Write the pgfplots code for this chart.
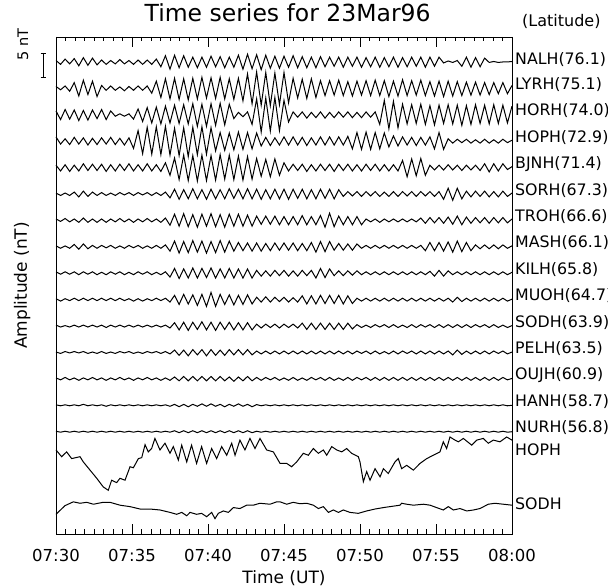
\documentclass[border=0pt]{standalone}
\usepackage{pgfplots}
\pgfplotsset{compat=1.18}
\usepackage{pgfplotstable}
\usepackage{fontspec}
\setmainfont{DejaVu Sans}

% amplitudes (nT) of the 15 upper traces, about their own baselines
\pgfplotstableread{
t a0 a1 a2 a3 a4 a5 a6 a7 a8 a9 a10 a11 a12 a13 a14
0 0.3 0.4 0.8 0.9 0.5 0.2 0.3 0.2 0.3 0.2 0.2 0.1 0.2 0.1 0.1
0.3 -0.5 -0.3 -1.0 -0.6 -0.7 -0.3 -0.2 -0.3 -0.2 -0.3 -0.2 -0.2 -0.2 -0.1 -0.1
0.6 0.6 0.5 1.1 0.5 0.6 0.2 0.4 0.2 0.3 0.2 0.1 0.2 0.3 0.1 0.1
0.9 -0.4 -0.6 -0.9 -0.7 -0.8 -0.3 -0.3 -0.3 -0.2 -0.2 -0.2 -0.1 -0.2 -0.1 -0.1
1.2 0.7 1.2 1.0 0.8 0.5 0.4 0.3 0.5 0.3 0.3 0.2 0.2 0.2 0.1 0.1
1.5 -0.8 -1.6 -1.2 -0.6 -0.7 -0.6 -0.4 -0.5 -0.3 -0.2 -0.2 -0.1 -0.3 -0.1 -0.1
1.8 0.9 1.7 0.9 0.7 0.8 0.6 0.5 0.6 0.3 0.3 0.2 0.2 0.2 0.2 0.1
2.1 -0.7 -1.3 -1.1 -0.8 -0.6 -0.5 -0.4 -0.4 -0.2 -0.2 -0.2 -0.2 -0.2 -0.1 -0.1
2.4 0.8 1.5 1.0 0.6 0.7 0.4 0.3 0.3 0.3 0.3 0.2 0.1 0.3 0.1 0.1
2.7 -0.6 -1.7 -0.8 -0.7 -0.6 -0.3 -0.4 -0.3 -0.3 -0.2 -0.2 -0.2 -0.2 -0.1 -0.1
3.0 0.4 0.6 1.1 0.7 0.7 0.3 0.3 0.3 0.2 0.3 0.2 0.2 0.2 0.1 0.1
3.3 -0.5 -0.4 -1.0 -0.6 -0.8 -0.3 -0.4 -0.2 -0.3 -0.2 -0.3 -0.2 -0.3 -0.2 -0.1
3.6 0.3 0.5 0.8 0.8 0.6 0.2 0.3 0.3 0.3 0.3 0.2 0.1 0.2 0.1 0.1
3.9 -0.4 -0.4 -0.3 -0.7 -0.7 -0.3 -0.3 -0.3 -0.2 -0.2 -0.2 -0.2 -0.2 -0.1 -0.1
4.2 0.5 0.3 0.2 0.6 0.7 0.3 0.4 0.2 0.3 0.3 0.2 0.2 0.3 0.1 0.1
4.5 -0.4 -0.5 -0.3 -0.8 -0.6 -0.2 -0.3 -0.3 -0.3 -0.2 -0.2 -0.1 -0.2 -0.1 -0.1
4.8 0.3 0.4 0.2 0.7 0.8 0.3 0.3 0.3 0.2 0.2 0.2 0.2 0.2 0.1 0.1
5.1 -0.5 -0.4 -0.9 -1.5 -0.7 -0.3 -0.4 -0.2 -0.3 -0.3 -0.2 -0.2 -0.3 -0.1 -0.1
5.4 0.4 0.5 1.2 2.2 0.6 0.3 0.3 0.3 0.3 0.2 0.2 0.1 0.2 0.1 0.1
5.7 -0.5 -0.4 -1.4 -2.6 -0.7 -0.2 -0.3 -0.3 -0.2 -0.3 -0.2 -0.2 -0.2 -0.1 -0.1
6.0 0.4 0.5 1.5 2.9 0.8 0.3 0.4 0.2 0.3 0.2 0.2 0.2 0.3 0.1 0.1
6.3 -0.5 -1.0 -1.7 -2.7 -0.7 -0.3 -0.3 -0.3 -0.3 -0.2 -0.2 -0.1 -0.2 -0.1 -0.1
6.6 0.6 1.5 1.6 3.0 0.6 0.3 0.3 0.3 0.2 0.3 0.2 0.2 0.2 0.1 0.1
6.9 -1.0 -1.9 -1.9 -2.8 -0.8 -0.3 -0.4 -0.3 -0.3 -0.2 -0.2 -0.2 -0.3 -0.1 -0.1
7.2 1.3 2.0 1.8 3.1 1.0 0.4 0.5 0.4 0.3 0.3 0.2 0.2 0.2 0.1 0.1
7.5 -1.5 -2.2 -1.7 -2.9 -1.6 -0.8 -1.0 -0.9 -0.8 -0.5 -0.4 -0.3 -0.3 -0.2 -0.1
7.8 1.4 2.1 2.0 2.7 2.0 1.0 1.3 1.2 1.0 0.9 0.7 0.5 0.4 0.2 0.2
8.1 -1.2 -2.3 -1.8 -3.0 -2.5 -1.1 -1.2 -1.3 -1.1 -1.0 -0.8 -0.6 -0.4 -0.3 -0.2
8.4 1.3 2.0 2.1 2.8 2.6 0.9 1.4 1.1 0.9 1.1 0.8 0.5 0.5 0.2 0.2
8.7 -1.1 -2.4 -1.9 -3.2 -2.7 -1.0 -1.3 -1.2 -1.0 -0.9 -0.9 -0.7 -0.4 -0.3 -0.2
9.0 1.0 2.1 2.3 2.9 2.5 1.1 1.2 1.3 1.1 1.0 0.8 0.6 0.5 0.2 0.2
9.3 -1.2 -2.2 -2.4 -2.8 -2.8 -1.0 -1.4 -1.1 -1.0 -1.2 -0.7 -0.5 -0.4 -0.2 -0.2
9.6 1.0 2.3 2.2 3.0 2.6 0.9 1.3 1.2 1.0 1.1 0.9 0.6 0.5 0.3 0.2
9.9 -1.1 -2.0 -2.4 -2.7 -2.7 -1.1 -1.2 -1.3 -0.9 -1.4 -0.8 -0.7 -0.4 -0.2 -0.2
10.2 1.2 2.2 2.3 2.8 2.5 1.0 1.4 1.1 1.1 1.5 0.8 0.6 0.5 0.3 0.2
10.5 -1.0 -2.1 -2.2 -2.0 -2.6 -1.0 -1.3 -1.2 -1.0 -1.4 -0.9 -0.6 -0.4 -0.2 -0.2
10.8 1.1 2.3 2.4 1.8 2.7 0.9 1.2 1.3 0.9 1.1 0.8 0.5 0.5 0.2 0.2
11.1 -1.2 -2.2 -2.1 -1.9 -2.4 -1.0 -1.4 -1.1 -1.0 -1.0 -0.7 -0.6 -0.4 -0.3 -0.2
11.4 1.0 2.0 2.2 1.7 2.6 1.1 1.3 1.2 1.0 1.0 0.8 0.6 0.4 0.2 0.2
11.7 -1.1 -2.3 -0.8 -1.8 -2.5 -0.9 -1.2 -0.9 -1.0 -1.1 -0.8 -0.5 -0.5 -0.2 -0.2
12.0 1.4 2.1 0.5 1.9 2.4 1.0 1.3 0.9 0.9 0.9 0.7 0.6 0.4 0.3 0.2
12.3 -1.5 -2.6 -0.4 -1.7 -2.6 -1.0 -1.2 -0.8 -1.0 -1.0 -0.8 -0.5 -0.4 -0.2 -0.2
12.6 1.6 3.0 0.6 1.8 2.3 1.1 1.1 0.8 0.9 1.0 0.7 0.6 0.5 0.2 0.2
12.9 -1.4 -3.2 -2.0 -1.6 -2.4 -1.0 -1.2 -0.9 -1.0 -0.9 -0.8 -0.5 -0.4 -0.3 -0.2
13.2 1.5 3.4 3.3 1.7 1.9 1.0 0.9 0.8 0.6 0.5 0.4 0.3 0.3 0.15 0.1
13.5 -1.6 -3.5 -3.6 -1.0 -1.8 -1.1 -0.8 -0.9 -0.6 -0.5 -0.4 -0.3 -0.3 -0.1 -0.1
13.8 1.4 3.3 3.5 0.8 1.7 0.9 0.9 0.7 0.5 0.6 0.4 0.3 0.3 0.1 0.1
14.1 -1.3 -3.6 -3.4 -0.9 -1.9 -1.0 -0.8 -0.8 -0.6 -0.5 -0.3 -0.3 -0.2 -0.1 -0.1
14.4 1.2 3.2 3.6 0.7 1.8 1.0 0.9 0.8 0.6 0.5 0.4 0.3 0.3 0.1 0.1
14.7 -1.3 -3.4 -3.3 -0.8 -1.6 -1.0 -0.9 -0.7 -0.5 -0.4 -0.4 -0.3 -0.3 -0.1 -0.1
15.0 1.2 3.3 3.0 0.9 1.0 1.0 0.8 0.8 0.6 0.5 0.4 0.3 0.2 0.1 0.1
15.3 -1.1 -3.0 -1.5 -0.8 -0.7 -1.1 -0.9 -0.7 -0.6 -0.5 -0.3 -0.3 -0.3 -0.1 -0.1
15.6 1.3 2.1 0.6 0.9 0.7 1.0 0.8 0.8 0.5 0.4 0.4 0.3 0.3 0.1 0.1
15.9 -1.2 -2.0 -0.5 -0.8 -0.6 -0.9 -0.9 -0.8 -0.6 -0.5 -0.4 -0.3 -0.3 -0.1 -0.1
16.2 1.1 1.9 0.6 0.8 0.7 1.0 1.0 0.7 0.6 0.8 0.6 0.3 0.2 0.1 0.1
16.5 -1.2 -2.1 -0.7 -0.9 -0.8 -1.0 -0.9 -0.8 -0.5 -0.9 -0.7 -0.3 -0.3 -0.1 -0.1
16.8 1.0 2.0 0.5 0.7 0.6 0.9 0.8 0.9 0.6 0.8 0.6 0.3 0.3 0.1 0.1
17.1 -1.2 -1.9 -0.6 -0.8 -0.7 -1.0 -0.9 -1.1 -1.0 -0.9 -0.7 -0.3 -0.2 -0.1 -0.1
17.4 1.1 1.6 0.6 0.9 0.7 1.0 1.0 1.1 1.0 0.9 0.6 0.3 0.3 0.1 0.1
17.7 -1.0 -1.5 -0.7 -0.8 -0.6 -0.9 -1.4 -1.0 -0.9 -0.8 -0.7 -0.3 -0.3 -0.1 -0.1
18.0 1.0 1.6 0.5 0.9 0.7 1.0 1.5 1.1 0.9 0.9 0.6 0.3 0.3 0.1 0.1
18.3 -0.9 -1.4 -0.6 -0.8 -0.8 -1.0 -1.3 -0.7 -0.5 -0.8 -0.7 -0.3 -0.3 -0.1 -0.1
18.6 1.0 1.7 0.6 0.9 0.7 0.9 0.9 0.7 0.5 0.9 0.6 0.3 0.2 0.1 0.1
18.9 -1.1 -1.5 -0.5 -0.8 -0.6 -0.5 -0.9 -0.7 -0.5 -0.9 -0.7 -0.3 -0.3 -0.1 -0.1
19.2 1.0 1.4 0.6 1.0 0.7 0.5 0.8 0.6 0.5 0.8 0.6 0.3 0.3 0.1 0.1
19.5 -0.9 -1.6 -0.6 -1.6 -0.7 -0.4 -0.9 -0.7 -0.4 -0.8 -0.6 -0.3 -0.3 -0.1 -0.1
19.8 1.0 1.5 0.5 1.8 0.6 0.5 0.8 0.6 0.5 0.3 0.3 0.3 0.3 0.1 0.1
20.1 -1.1 -1.4 -0.6 -1.7 -0.7 -0.5 -0.9 -0.3 -0.3 -0.3 -0.3 -0.2 -0.2 -0.1 -0.1
20.4 0.9 1.6 0.6 1.9 0.7 0.5 0.3 0.3 0.3 0.3 0.2 0.3 0.3 0.1 0.1
20.7 -1.0 -1.5 -0.5 -1.7 -0.6 -0.4 -0.3 -0.3 -0.3 -0.3 -0.3 -0.3 -0.3 -0.1 -0.1
21.0 1.0 1.7 0.6 1.8 0.7 0.5 0.3 0.3 0.3 0.3 0.3 0.3 0.3 0.1 0.1
21.3 -1.1 -1.5 -2.0 -1.6 -0.7 -0.5 -0.4 -0.3 -0.3 -0.3 -0.2 -0.3 -0.3 -0.1 -0.1
21.6 0.9 1.6 3.0 1.7 0.6 0.4 0.3 0.3 0.3 0.3 0.3 0.2 0.3 0.1 0.1
21.9 -1.0 -1.7 -2.9 -1.2 -0.7 -0.5 -0.3 -0.3 -0.3 -0.3 -0.3 -0.3 -0.3 -0.1 -0.1
22.2 1.0 1.5 2.8 1.1 0.6 0.5 0.3 0.3 0.3 0.3 0.3 0.3 0.3 0.1 0.1
22.5 -1.1 -1.6 -2.7 -1.0 -0.7 -0.5 -0.3 -0.3 -0.3 -0.3 -0.3 -0.3 -0.3 -0.1 -0.1
22.8 0.9 1.8 2.2 0.9 1.5 0.5 0.3 0.3 0.3 0.3 0.2 0.3 0.3 0.1 0.1
23.1 -1.0 -1.5 -1.9 -0.8 -1.9 -0.4 -0.3 -0.3 -0.3 -0.3 -0.3 -0.2 -0.3 -0.1 -0.1
23.4 1.0 1.6 2.1 0.8 1.8 0.5 0.3 0.3 0.3 0.3 0.3 0.3 0.3 0.1 0.1
23.7 -0.9 -1.4 -1.8 -0.9 -1.7 -0.5 -0.3 -0.3 -0.3 -0.3 -0.3 -0.3 -0.3 -0.1 -0.1
24.0 1.0 1.7 2.2 0.8 1.9 0.5 0.5 0.3 0.3 0.3 0.3 0.3 0.3 0.1 0.1
24.3 -1.1 -1.5 -2.0 -0.8 -1.6 -0.4 -0.6 -0.8 -0.3 -0.3 -0.2 -0.3 -0.3 -0.1 -0.1
24.6 1.0 1.4 1.9 0.9 0.5 0.5 0.6 0.9 0.4 0.3 0.3 0.3 0.3 0.1 0.1
24.9 -0.9 -1.6 -2.1 -1.6 -0.5 -0.5 -0.5 -0.8 -0.6 -0.3 -0.3 -0.3 -0.3 -0.1 -0.1
25.2 1.0 1.5 2.0 1.8 0.5 0.5 0.6 0.9 0.6 0.3 0.3 0.3 0.3 0.1 0.1
25.5 -0.2 -1.7 -1.8 -1.7 -0.5 -1.1 -0.6 -0.9 -0.6 -0.3 -0.3 -0.3 -0.3 -0.1 -0.1
25.8 0.2 1.5 2.1 0.5 0.6 1.2 0.7 1.0 0.5 0.3 0.3 0.3 0.3 0.1 0.1
26.1 -0.1 -1.6 -1.9 -0.4 -0.5 -1.3 -0.8 -1.1 -0.3 -0.5 -0.3 -0.5 -0.3 -0.1 -0.1
26.4 0.3 1.4 2.0 0.4 0.5 1.2 0.9 1.2 0.3 0.5 0.3 0.5 0.3 0.1 0.1
26.7 -0.9 -1.5 -2.2 -0.3 -0.6 -1.0 -0.9 -1.0 -0.3 -0.4 -0.3 -0.4 -0.3 -0.1 -0.1
27.0 1.0 1.3 1.9 0.4 0.5 0.6 0.7 0.9 0.3 0.3 0.3 0.3 0.3 0.1 0.1
27.3 -1.1 -1.4 -2.0 -0.4 -0.5 -0.6 -0.6 -0.8 -0.3 -0.3 -0.3 -0.3 -0.3 -0.1 -0.1
27.6 0.9 1.3 2.1 0.3 0.5 0.6 0.6 0.4 0.3 0.3 0.3 0.3 0.3 0.1 0.1
27.9 -1.0 -1.4 -1.8 -0.4 -0.6 -0.5 -0.5 -0.4 -0.3 -0.3 -0.2 -0.3 -0.3 -0.1 -0.1
28.2 0.8 1.2 2.0 0.4 0.8 0.6 0.6 0.4 0.3 0.3 0.3 0.3 0.3 0.1 0.1
28.5 -0.1 -1.3 -1.9 -0.4 -0.9 -0.6 -0.6 -0.4 -0.3 -0.3 -0.3 -0.3 -0.3 -0.1 -0.1
28.8 0.1 1.2 2.1 0.3 0.8 0.5 0.6 0.4 0.3 0.3 0.3 0.3 0.3 0.1 0.1
29.1 -0.1 -1.1 -1.8 -0.4 -0.7 -0.6 -0.5 -0.4 -0.3 -0.3 -0.3 -0.2 -0.3 -0.1 -0.1
29.4 0.0 1.2 2.0 0.4 0.8 0.6 0.6 0.4 0.3 0.3 0.2 0.3 0.3 0.1 0.1
29.7 0.0 -1.1 -1.7 -0.3 -0.4 -0.5 -0.5 -0.3 -0.3 -0.3 -0.3 -0.3 -0.2 -0.1 -0.1
30 0.1 0.6 1.8 0.2 0.2 0.2 0.3 0.2 0.2 0.1 0.1 0.1 0.1 0.0 0.0
}\traces

\tikzset{lab/.style={anchor=west,inner sep=0pt,xshift=3pt,font=\fontsize{15.8}{17}\selectfont}}

\begin{document}
\begin{tikzpicture}
\begin{axis}[
name=ax,
scale only axis,
width=456pt,
height=497pt,
xmin=0, xmax=30,
ymin=-98.3, ymax=5.2,
clip=false,
axis line style={line width=0.9pt},
ytick=\empty,
xtick={0,5,10,15,20,25,30},
xticklabels={07:30,07:35,07:40,07:45,07:50,07:55,08:00},
minor x tick num=7,
tick align=inside,
xtick pos=both,
xticklabel pos=lower,
major tick length=10pt,
minor tick length=4.5pt,
tick style={line width=0.9pt,black},
xticklabel style={font=\fontsize{16.5}{18}\selectfont,anchor=base,yshift=-28pt},
xlabel={Time (UT)},
ylabel={Amplitude (nT)},
xlabel style={font=\fontsize{17}{19}\selectfont,at={(axis description cs:0.5,-0.0986)},anchor=base},
ylabel style={font=\fontsize{17}{19}\selectfont,at={(axis description cs:-0.0636,0.5)},anchor=base},
title={Time series for 23Mar96},
title style={font=\fontsize{23.5}{25}\selectfont,at={(axis description cs:0.508,1.02)},anchor=base},
]
\pgfplotsinvokeforeach{0,...,14}{
  \addplot[black,line width=1pt] table[x=t,y expr=\thisrow{a#1}-5.5*#1] {\traces};
}
% HOPH, full field
\addplot[black,line width=1pt] coordinates {
(0,-80.8) (0.37,-82.2) (0.7,-81.2) (1.03,-82.6) (1.58,-82.2) (1.8,-83.3) (2.24,-85.0)
(2.68,-86.7) (3.11,-88.5) (3.44,-89.2) (3.66,-87.1) (3.99,-87.6) (4.21,-86.7) (4.54,-87.1)
(4.87,-84.3) (5.09,-84.5) (5.42,-82.6) (5.64,-82.4) (5.86,-79.7) (6.07,-81.2) (6.29,-80.5)
(6.51,-78.4) (6.84,-80.8) (7.17,-79.4) (7.5,-81.5) (7.72,-80.1) (8.05,-82.9) (8.27,-79.8)
(8.6,-83.3) (8.92,-79.8) (9.25,-83.6) (9.58,-80.1) (9.91,-83.6) (10.24,-80.5) (10.57,-82.6)
(10.9,-80.1) (11.23,-81.9) (11.56,-79.4) (11.78,-81.9) (12.1,-78.75) (12.43,-80.8)
(12.76,-78.4) (13.09,-80.5) (13.42,-78.4) (13.86,-80.8) (14.3,-81.2) (14.74,-83.6)
(15.18,-83.6) (15.5,-84.3) (15.83,-83.3) (16.27,-81.5) (16.6,-81.9) (16.93,-80.5)
(17.26,-81.5) (17.59,-80.8) (17.81,-81.9) (18.14,-80.1) (18.47,-80.8) (18.8,-81.2)
(19.12,-80.5) (19.45,-81.5) (19.89,-82.2) (20.0,-83.3) (20.22,-87.4) (20.44,-85.3)
(20.66,-87.1) (20.99,-84.7) (21.32,-86.4) (21.54,-84.7) (21.86,-85.7) (22.3,-83.3)
(22.52,-82.6) (22.74,-84.7) (23.07,-84.0) (23.51,-85.0) (23.95,-83.6) (24.39,-82.6)
(24.82,-81.9) (25.26,-81.2) (25.48,-79.1) (25.7,-80.5) (25.92,-78.1) (26.25,-78.75)
(26.47,-79.1) (26.8,-78.4) (27.35,-79.8) (27.68,-78.75) (28.11,-78.4) (28.44,-79.4)
(28.77,-78.75) (29.21,-79.1) (29.65,-78.1) (30,-78.75)};
% SODH, full field
\addplot[black,line width=1pt] coordinates {
(0,-94.2) (0.59,-92.4) (1.14,-91.6) (1.58,-91.9) (2.02,-91.7) (2.46,-92.1) (3.11,-91.7)
(3.55,-91.7) (4.21,-92.3) (4.87,-92.6) (5.53,-93.1) (6.18,-93.1) (6.84,-93.3) (7.5,-93.8)
(7.94,-94.2) (8.27,-93.8) (8.6,-94.5) (8.82,-93.8) (9.25,-94.2) (9.58,-94.0) (9.91,-94.7)
(10.24,-93.8) (10.46,-95.1) (10.68,-94.0) (11.01,-93.5) (11.34,-93.8) (11.67,-92.8)
(12.1,-93.0) (12.54,-92.3) (12.98,-92.3) (13.42,-91.9) (14.08,-92.1) (14.52,-91.6)
(14.74,-91.6) (15.18,-92.1) (15.61,-91.7) (16.05,-92.0) (16.49,-91.9) (16.93,-92.3)
(17.26,-93.0) (17.59,-92.6) (17.92,-93.8) (18.25,-93.3) (18.58,-93.8) (18.9,-93.3)
(19.34,-93.8) (19.89,-94.0) (20.44,-93.5) (20.99,-93.1) (21.54,-92.8) (21.97,-92.6)
(22.63,-92.3) (22.74,-91.9) (23.07,-92.1) (23.51,-92.3) (24.17,-92.1) (24.61,-92.3)
(25.04,-92.8) (25.48,-93.3) (25.81,-92.6) (26.14,-93.3) (26.58,-93.0) (27.02,-93.5)
(27.46,-93.3) (27.89,-93.0) (28.44,-92.1) (28.88,-91.9) (29.43,-92.1) (30,-92.3)};
% station labels
\node[lab] at (axis cs:30,0.6) {NALH(76.1)};
\node[lab] at (axis cs:30,-4.7) {LYRH(75.1)};
\node[lab] at (axis cs:30,-10.2) {HORH(74.0)};
\node[lab] at (axis cs:30,-15.7) {HOPH(72.9)};
\node[lab] at (axis cs:30,-21.2) {BJNH(71.4)};
\node[lab] at (axis cs:30,-26.7) {SORH(67.3)};
\node[lab] at (axis cs:30,-32.2) {TROH(66.6)};
\node[lab] at (axis cs:30,-37.7) {MASH(66.1)};
\node[lab] at (axis cs:30,-43.2) {KILH(65.8)};
\node[lab] at (axis cs:30,-48.7) {MUOH(64.7)};
\node[lab] at (axis cs:30,-54.2) {SODH(63.9)};
\node[lab] at (axis cs:30,-59.7) {PELH(63.5)};
\node[lab] at (axis cs:30,-65.2) {OUJH(60.9)};
\node[lab] at (axis cs:30,-70.7) {HANH(58.7)};
\node[lab] at (axis cs:30,-76.2) {NURH(56.8)};
\node[lab] at (axis cs:30,-80.8) {HOPH};
\node[lab] at (axis cs:30,-91.9) {SODH};
\node[anchor=base west,inner sep=0pt,font=\fontsize{16}{18}\selectfont]
  at ([xshift=10pt,yshift=10pt]axis description cs:1,1) {(Latitude)};
% 5 nT scale bar
\draw[line width=0.9pt] (axis cs:-0.855,1.875) -- (axis cs:-0.855,-3.125);
\draw[line width=0.9pt] ([xshift=-2.5pt]axis cs:-0.855,1.875) -- ([xshift=2.5pt]axis cs:-0.855,1.875);
\draw[line width=0.9pt] ([xshift=-2.5pt]axis cs:-0.855,-3.125) -- ([xshift=2.5pt]axis cs:-0.855,-3.125);
\node[rotate=90,anchor=base,inner sep=0pt,font=\fontsize{14.5}{16}\selectfont]
  at (axis cs:-1.84,3.6) {5 nT};
\end{axis}
\pgfresetboundingbox
\useasboundingbox ([shift={(-56pt,-52pt)}]ax.south west) rectangle ([shift={(96pt,37pt)}]ax.north east);
\end{tikzpicture}
\end{document}
